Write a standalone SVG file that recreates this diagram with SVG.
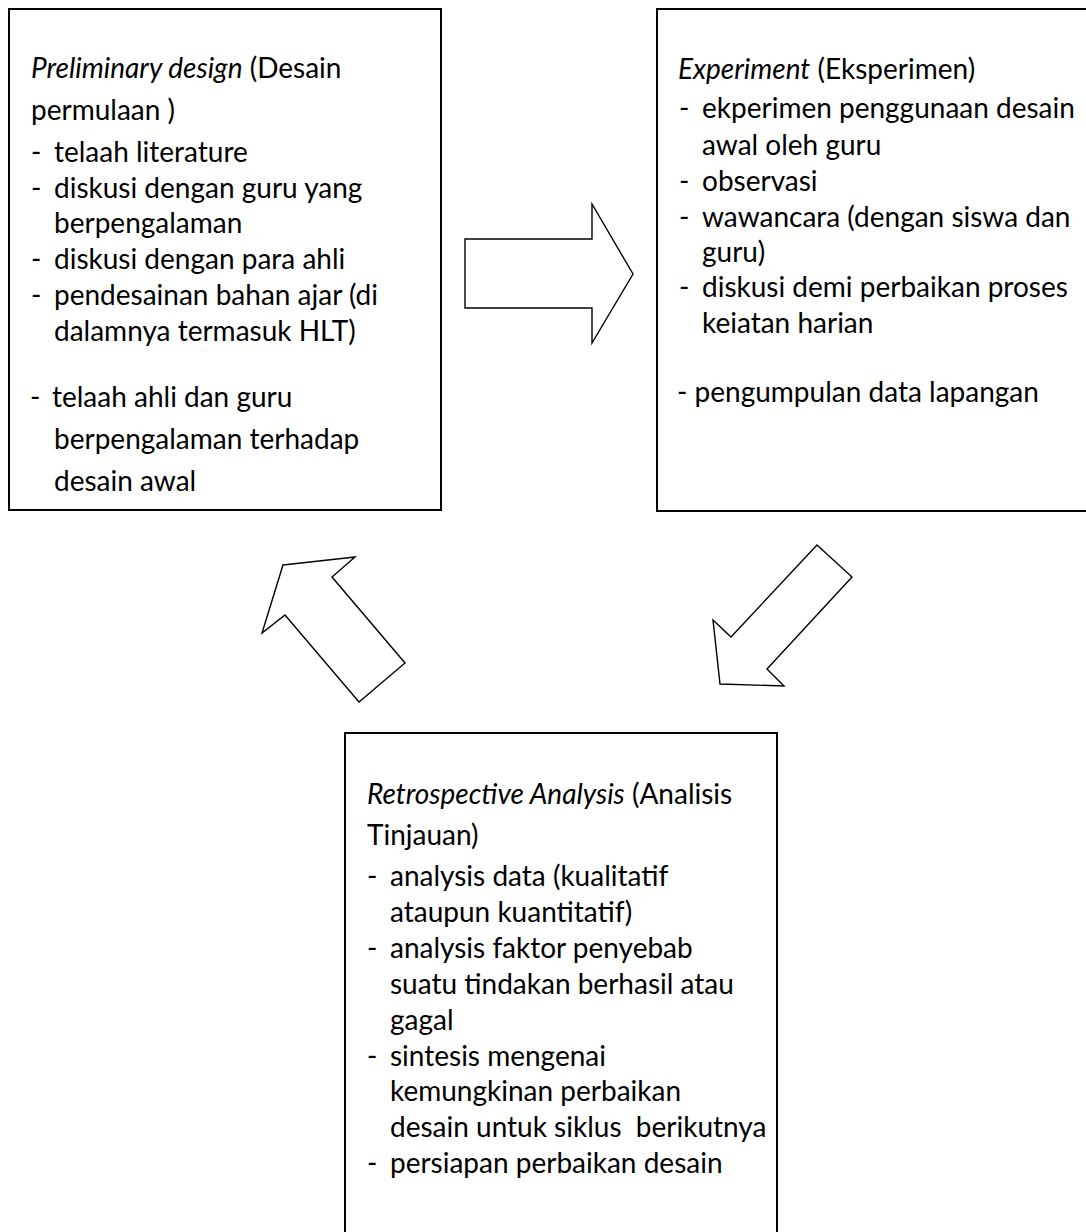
<svg xmlns="http://www.w3.org/2000/svg" width="1086" height="1232" viewBox="0 0 1086 1232">
<style>
.box{fill:#fff;stroke:#000;stroke-width:2}
.arr{fill:#fff;stroke:#000;stroke-width:1.4;stroke-linejoin:miter}
text{font-family:Lato,"Open Sans","Liberation Sans",sans-serif;font-size:28px;fill:#000;white-space:pre}
.i{font-style:italic}
</style>
<rect width="1086" height="1232" fill="#fff"/>
<g id="connectors">
<polygon class="arr" points="465,239 592,239 592,204 633,274 592,343 592,308 465,308"/>
<polygon class="arr" points="817,545 852,577 767,669 784,686 720,684 713,620 731,637"/>
<polygon class="arr" points="283,565 355,557 332,577 405,663 359,702 285,615 262,633"/>
</g>
<g id="node-preliminary">
<rect class="box" x="9" y="9" width="432" height="501"/>
<text x="31" y="78"><tspan class="i">Preliminary design</tspan> (Desain</text>
<text x="31" y="120">permulaan )</text>
<text x="31" y="162">-</text><text x="54" y="162">telaah literature</text>
<text x="31" y="198">-</text><text x="54" y="198">diskusi dengan guru yang</text>
<text x="54" y="233">berpengalaman</text>
<text x="31" y="269">-</text><text x="54" y="269">diskusi dengan para ahli</text>
<text x="31" y="305">-</text><text x="54" y="305">pendesainan bahan ajar (di</text>
<text x="54" y="341">dalamnya termasuk HLT)</text>
<text x="30" y="407">-</text><text x="52" y="407">telaah ahli dan guru</text>
<text x="54" y="449">berpengalaman terhadap</text>
<text x="54" y="491">desain awal</text>
</g>
<g id="node-experiment">
<rect class="box" x="657" y="9" width="440" height="502"/>
<text x="678" y="79"><tspan class="i">Experiment</tspan> (Eksperimen)</text>
<text x="679" y="118">-</text><text x="702" y="118">ekperimen penggunaan desain</text>
<text x="702" y="155">awal oleh guru</text>
<text x="679" y="191">-</text><text x="702" y="191">observasi</text>
<text x="679" y="227">-</text><text x="702" y="227">wawancara (dengan siswa dan</text>
<text x="702" y="262">guru)</text>
<text x="679" y="297">-</text><text x="702" y="297">diskusi demi perbaikan proses</text>
<text x="702" y="333">keiatan harian</text>
<text x="677" y="402">- pengumpulan data lapangan</text>
</g>
<g id="node-retrospective">
<rect class="box" x="345" y="733" width="432" height="520"/>
<text x="367" y="804"><tspan class="i">Retrospective Analysis</tspan> (Analisis</text>
<text x="367" y="845">Tinjauan)</text>
<text x="367" y="886">-</text><text x="390" y="886">analysis data (kualitatif</text>
<text x="390" y="922">ataupun kuantitatif)</text>
<text x="367" y="958">-</text><text x="390" y="958">analysis faktor penyebab</text>
<text x="390" y="994">suatu tindakan berhasil atau</text>
<text x="390" y="1030">gagal</text>
<text x="367" y="1066">-</text><text x="390" y="1066">sintesis mengenai</text>
<text x="390" y="1101">kemungkinan perbaikan</text>
<text x="390" y="1137">desain untuk siklus  berikutnya</text>
<text x="367" y="1173">-</text><text x="390" y="1173">persiapan perbaikan desain</text>
</g>
</svg>
